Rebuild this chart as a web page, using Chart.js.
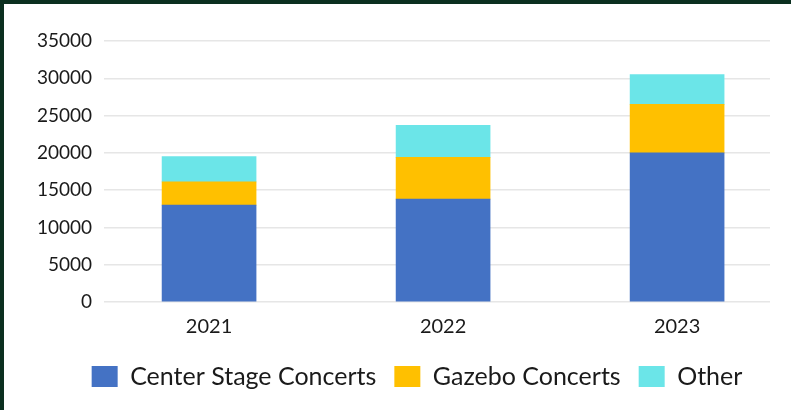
<!DOCTYPE html>
<html>
<head>
<meta charset="utf-8">
<script src="https://cdn.jsdelivr.net/npm/chart.js@4"></script>
<style>
  html, body { margin: 0; padding: 0; background: #fff; }
  #wrap {
    position: absolute; left: 0; top: 0;
    width: 787px; height: 406px;
    border-left: 4px solid #0b2f1f;
    border-top: 4px solid #0b2f1f;
    background: #fff;
  }
  #chart { display: block; }
</style>
</head>
<body>
<div id="wrap"><canvas id="chart" width="787" height="406"></canvas></div>
<script>
// attendance by year
let years = [2021, 2022, 2023];
let centerStage = [13000, 13800, 20000];
let gazebo = [3100, 5600, 6500];
let other = [3400, 4300, 4000];
let yTicks = [0, 5000, 10000, 15000, 20000, 25000, 30000, 35000];

let seriesNames = ["Center Stage Concerts", "Gazebo Concerts", "Other"];
let seriesColors = ["#4472C4", "#FFC000", "#6BE5E8"];

const fontName = "Lato, 'Noto Sans', sans-serif";

function points(vals) {
  return years.map((y, i) => ({x: y, y: vals[i]}));
}

// legend in the original sits a bit right of centre
const shiftLegend = {
  id: 'shiftLegend',
  afterLayout(chart) {
    if (chart.legend) chart.legend.left += 60;
  }
};

let chart = new Chart(document.getElementById("chart"), {
  type: 'bar',
  data: {
    datasets: [centerStage, gazebo, other].map((vals, i) => ({
      label: seriesNames[i],
      data: points(vals),
      backgroundColor: seriesColors[i],
      borderWidth: 0,
      barThickness: 94
    }))
  },
  plugins: [shiftLegend],
  options: {
    responsive: false,
    animation: false,
    layout: { padding: { top: 37, right: 21, left: 0, bottom: 11 } },
    plugins: {
      title: { display: false },
      tooltip: { enabled: false },
      legend: {
        position: 'bottom',
        labels: {
          boxWidth: 26,
          boxHeight: 21,
          padding: 18,
          color: '#1a1a1a',
          font: { family: fontName, size: 25 }
        }
      }
    },
    scales: {
      x: {
        type: 'linear',
        stacked: true,
        offset: false,
        min: 2020.551,
        max: 2023.397,
        afterBuildTicks: (scale) => { scale.ticks = years.map(v => ({value: v})); },
        afterFit: (scale) => { scale.height = 44; },
        grid: { display: false },
        border: { display: false },
        ticks: {
          padding: 5,
          color: '#1a1a1a',
          font: { family: fontName, size: 20 },
          callback: (v) => String(v)
        }
      },
      y: {
        stacked: true,
        min: 0,
        max: 35000,
        afterBuildTicks: (scale) => { scale.ticks = yTicks.map(v => ({value: v})); },
        afterFit: (scale) => { scale.width = 100; },
        grid: { color: '#e6e6e6', lineWidth: 1.5, drawTicks: false },
        border: { display: false },
        ticks: {
          padding: 12,
          color: '#1a1a1a',
          font: { family: fontName, size: 19 },
          callback: (v) => String(v)
        }
      }
    }
  }
});
</script>
</body>
</html>
